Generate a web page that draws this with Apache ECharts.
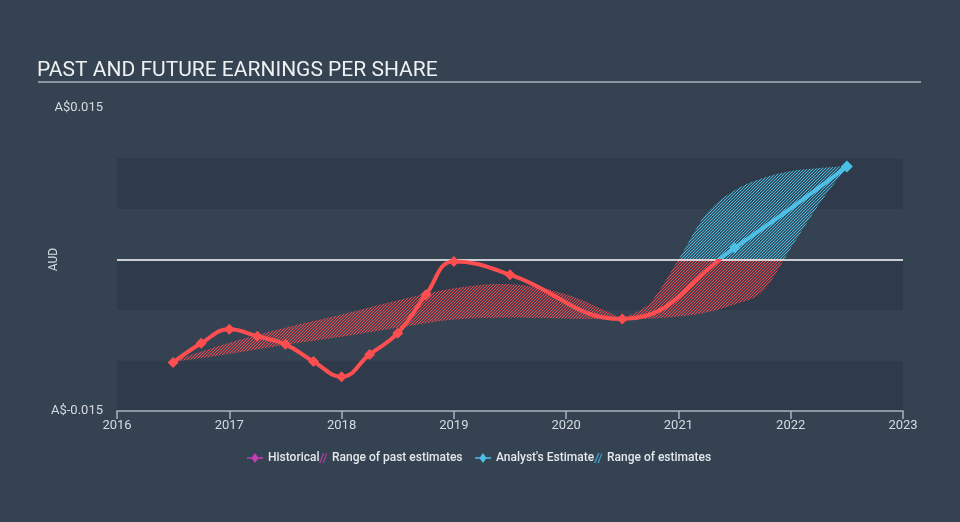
<!DOCTYPE html>
<html>
<head>
<meta charset="utf-8">
<script src="https://cdn.jsdelivr.net/npm/echarts@6/dist/echarts.min.js"></script>
<style>
html,body{margin:0;padding:0;background:#344252;}
#c{width:960px;height:522px;}
</style>
</head>
<body>
<div id="c"></div>
<script>
// ---- data ----
const titleText = 'PAST AND FUTURE EARNINGS PER SHARE';
const yAxisName = 'AUD';
const xTickYears = [2016, 2017, 2018, 2019, 2020, 2021, 2022, 2023];
const yMin = -0.015, yMax = 0.015, yStep = 0.005;
const yEndLabels = ['A$-0.015', 'A$0.015'];

const histDates = [2016.5, 2016.75, 2017.0, 2017.25, 2017.5, 2017.75, 2018.0, 2018.25, 2018.5, 2018.75, 2019.0, 2019.5, 2020.5];
const histEPS   = [-0.0102, -0.0083, -0.0069, -0.0076, -0.0084, -0.0101, -0.0116, -0.0094, -0.0073, -0.0035, -0.0002, -0.0015, -0.0059];

const fcDates = [2020.5, 2021.5, 2022.5];
const fcEPS   = [-0.0059, 0.00116, 0.0092];

const pastBandDates = [2016.5, 2017.0, 2017.5, 2018.0, 2018.5, 2019.0, 2019.5, 2020.0, 2020.5];
const pastBandHigh  = [-0.0101, -0.0083, -0.0068, -0.0055, -0.0041, -0.0029, -0.0025, -0.0035, -0.0059];
const pastBandLow   = [-0.0101, -0.0093, -0.0084, -0.0076, -0.0067, -0.0059, -0.0057, -0.0058, -0.0059];

const futBandDates = [2020.5, 2020.75, 2021.0, 2021.25, 2021.5, 2021.75, 2022.0, 2022.25, 2022.5];
const futBandHigh  = [-0.0059, -0.0043, -0.0001, 0.0045, 0.0068, 0.0080, 0.0087, 0.0090, 0.0092];
const futBandLow   = [-0.0059, -0.0058, -0.0056, -0.0052, -0.0044, -0.0031, 0.0012, 0.0055, 0.0092];

const legendNames = ['Historical', 'Range of past estimates', "Analyst's Estimate", 'Range of estimates'];

// ---- style ----
const RED = '#ff4e50', BLUE = '#4cbfe6', MAGENTA = '#c83db6';
const FONT = 'Roboto';
const TXT = '#d6dbe0';

function pairs(xs, ys) { return xs.map((x, i) => [x, ys[i]]); }

// historical points followed by the analyst estimates (one continuous curve, coloured by sign)
const epsLine = pairs(histDates, histEPS).map(p => ({ value: p, symbolSize: 11 }))
  .concat(fcDates.slice(1).map((d, i) => ({ value: [d, fcEPS[i + 1]], symbolSize: i === fcDates.length - 2 ? 12 : 11 })));

let hatchPattern = null;
function getHatch(zeroY) {
  if (hatchPattern) return hatchPattern;
  const h = 522;
  const c = document.createElement('canvas');
  c.width = 3; c.height = h;
  const ctx = c.getContext('2d');
  for (let y = 0; y < h; y++) {
    const above = (y + 0.5 < zeroY);
    ctx.fillStyle = above ? 'rgba(76,192,230,0.14)' : 'rgba(246,72,78,0.14)';
    ctx.fillRect(0, y, 3, 1);
    ctx.fillStyle = above ? 'rgba(80,196,234,0.9)' : 'rgba(250,76,82,0.9)';
    for (let x = 0; x < 3; x++) {
      if ((x + y) % 3 === 0) ctx.fillRect(x, y, 1, 1);
    }
  }
  hatchPattern = { image: c, repeat: 'repeat' };
  return hatchPattern;
}

// Catmull-Rom through pixel points given by the axes
function spline(pts, steps) {
  const out = [];
  for (let i = 0; i < pts.length - 1; i++) {
    const p0 = pts[Math.max(i - 1, 0)], p1 = pts[i], p2 = pts[i + 1], p3 = pts[Math.min(i + 2, pts.length - 1)];
    for (let s = 0; s < steps; s++) {
      const t = s / steps, t2 = t * t, t3 = t2 * t;
      const f = k => 0.5 * ((2 * p1[k]) + (-p0[k] + p2[k]) * t + (2 * p0[k] - 5 * p1[k] + 4 * p2[k] - p3[k]) * t2 + (-p0[k] + 3 * p1[k] - 3 * p2[k] + p3[k]) * t3);
      out.push([f(0), f(1)]);
    }
  }
  out.push(pts[pts.length - 1]);
  return out;
}

function bandRenderer(params, api) {
  if (params.dataIndexInside !== 0) return null;
  const n = params.dataInsideLength;
  const hi = [], lo = [];
  for (let i = 0; i < n; i++) {
    hi.push(api.coord([api.value(0, i), api.value(2, i)]));
    lo.push(api.coord([api.value(0, i), api.value(1, i)]));
  }
  const zeroY = api.coord([xTickYears[0], 0])[1];
  const pat = getHatch(zeroY);
  const points = spline(hi, 16).concat(spline(lo, 16).reverse());
  return {
    type: 'polygon', silent: true,
    shape: { points: points },
    style: { fill: pat, stroke: pat, lineWidth: 1 }
  };
}

const diamondLine = 'path://M0,4.3 L5,4.3 L8,0 L11,4.3 L16,4.3 L16,5.7 L11,5.7 L8,10 L5,5.7 L0,5.7 Z';
const hatchIcon = 'path://M0,10 L4,0 L5.6,0 L1.6,10 Z M3.4,10 L7.4,0 L8,0 L8,1.5 L5,10 Z';

function legendAt(left, name, icon, w, color) {
  return {
    left: left, top: 452, padding: 0, itemWidth: w, itemHeight: 10, selectedMode: false,
    data: [{ name: name, icon: icon, itemStyle: { color: color } }],
    textStyle: { color: '#e4e8ec', fontSize: 12, fontFamily: FONT, fontWeight: 500 }
  };
}

const chart = echarts.init(document.getElementById('c'), null, { renderer: 'canvas' });

const option = {
  animation: false,
  backgroundColor: '#344252',
  textStyle: { fontFamily: FONT },
  title: {
    text: titleText, left: 37, top: 60, padding: 0,
    textStyle: { color: '#eef0f2', fontSize: 21, fontWeight: 'normal', fontFamily: FONT }
  },
  graphic: [{
    type: 'line', shape: { x1: 38, y1: 82, x2: 921, y2: 82 },
    style: { stroke: '#aab3bc', lineWidth: 1.5 }, silent: true
  }],
  legend: [
    legendAt(247, legendNames[0], diamondLine, 16, MAGENTA),
    legendAt(319, legendNames[1], hatchIcon, 8, '#a33e92'),
    legendAt(475, legendNames[2], diamondLine, 16, BLUE),
    legendAt(594, legendNames[3], hatchIcon, 8, '#3f9cc0')
  ],
  grid: { left: 117, right: 57, top: 108, bottom: 111 },
  xAxis: {
    type: 'value', min: xTickYears[0], max: xTickYears[xTickYears.length - 1], interval: 1,
    axisLine: { show: true, onZero: false, lineStyle: { color: '#a9b4c0', width: 1.5 } },
    axisTick: { show: true, length: 8, lineStyle: { color: '#a9b4c0', width: 1.5 } },
    axisLabel: { color: TXT, fontSize: 13, margin: 8, fontFamily: FONT, formatter: v => String(v) },
    splitLine: { show: false }
  },
  yAxis: {
    type: 'value', min: yMin, max: yMax, interval: yStep,
    name: yAxisName, nameLocation: 'middle', nameGap: 57, nameRotate: 90, nameMoveOverlap: false,
    nameTextStyle: { color: TXT, fontSize: 12, fontFamily: FONT },
    axisLine: { show: false }, axisTick: { show: false },
    axisLabel: {
      color: TXT, fontSize: 13, margin: 14, fontFamily: FONT, showMinLabel: true, showMaxLabel: true,
      formatter: v => Math.abs(v - yMin) < 1e-9 ? yEndLabels[0] : (Math.abs(v - yMax) < 1e-9 ? yEndLabels[1] : '')
    },
    splitLine: { show: false },
    splitArea: { show: true, areaStyle: { color: ['#2f3b4b', '#344252', '#2f3b4b', '#344252', '#2f3b4b', 'rgba(0,0,0,0)'] } }
  },
  visualMap: {
    type: 'piecewise', show: false, dimension: 1, seriesIndex: [2],
    pieces: [{ gte: -1, lt: 0, color: RED }, { gte: 0, lte: 1, color: BLUE }]
  },
  series: [
    { id: 'pastBand', name: legendNames[1], type: 'custom', silent: true, z: 1,
      itemStyle: { color: '#a33e92' }, encode: { x: 0, y: [1, 2] },
      data: pastBandDates.map((d, i) => [d, pastBandLow[i], pastBandHigh[i]]),
      renderItem: bandRenderer },
    { id: 'futBand', name: legendNames[3], type: 'custom', silent: true, z: 1,
      itemStyle: { color: '#3f9cc0' }, encode: { x: 0, y: [1, 2] },
      data: futBandDates.map((d, i) => [d, futBandLow[i], futBandHigh[i]]),
      renderItem: bandRenderer },
    { id: 'hist', name: legendNames[0], type: 'line', smooth: 0.45, symbol: 'diamond',
      data: epsLine, lineStyle: { width: 4 }, itemStyle: { color: MAGENTA }, z: 5,
      markLine: { silent: true, symbol: 'none', label: { show: false },
        lineStyle: { color: '#ffffff', width: 1.5, type: 'solid' }, data: [{ yAxis: 0 }] } },
    { id: 'fc', name: legendNames[2], type: 'line', data: [], itemStyle: { color: BLUE } }
  ]
};

chart.setOption(option);
</script>
</body>
</html>
